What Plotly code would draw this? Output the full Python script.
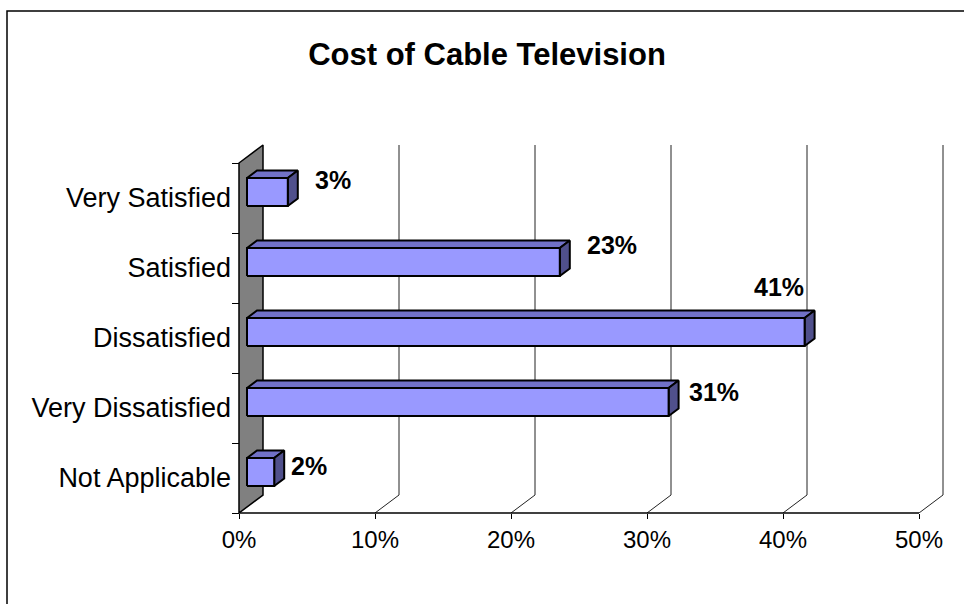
import plotly.graph_objects as go

# ---- data -------------------------------------------------------------
categories = ["Very Satisfied", "Satisfied", "Dissatisfied",
              "Very Dissatisfied", "Not Applicable"]
values = [3, 23, 41, 31, 2]          # percent of respondents
x_ticks = [0, 10, 20, 30, 40, 50]
x_tick_text = ["0%", "10%", "20%", "30%", "40%", "50%"]

# ---- geometry of the pseudo-3D frame ----------------------------------
W, H = 964, 604
PX_PER_PCT = 13.6        # horizontal scale
BAND_PX = 70             # height of one category band
DEPTH_X = 24 / PX_PER_PCT  # back wall offset, in x units
DEPTH_Y = 18 / BAND_PX     # back wall offset, in category units
BAR_FRONT, BAR_BACK = 1 / 3, 0.75   # bar depth (fraction of full depth)
BAR_HALF = 0.2                      # half bar thickness, category units

M_L, M_R, M_T, M_B = 232, 10, 130, 91
PLOT_W, PLOT_H = W - M_L - M_R, H - M_T - M_B
X_LO = -7 / PX_PER_PCT
X_HI = X_LO + PLOT_W / PX_PER_PCT
Y_LO = -0.5
Y_HI = Y_LO + PLOT_H / BAND_PX

# label offsets (pixels) from the bar end
label_shift = [(53, 18), (60, 23), (-18, 51), (53, 16), (43, 12)]

FONT = "Liberation Sans, Arial, sans-serif"
FRONT_C, TOP_C, SIDE_C = "#9999FF", "#7171C6", "#50508C"

n = len(categories)
fig = go.Figure()


def poly(xs, ys, fill, width=1.5):
    fig.add_trace(go.Scatter(
        x=list(xs) + [xs[0]], y=list(ys) + [ys[0]], mode="lines",
        fill="toself", fillcolor=fill,
        line=dict(color="black", width=width),
        hoverinfo="skip", showlegend=False))


# left (gray) wall
poly([0, DEPTH_X, DEPTH_X, 0],
     [Y_LO, Y_LO + DEPTH_Y, n - 0.5 + DEPTH_Y, n - 0.5], "#808080", 1.5)

# back-wall gridlines and floor diagonals
gx, gy = [], []
for v in x_ticks[1:]:
    gx += [v, v + DEPTH_X, v + DEPTH_X, None]
    gy += [Y_LO, Y_LO + DEPTH_Y, n - 0.5 + DEPTH_Y, None]
fig.add_trace(go.Scatter(x=gx, y=gy, mode="lines",
                         line=dict(color="#222222", width=1),
                         hoverinfo="skip", showlegend=False))

# bars: front, top and side faces
for k, (cat, v) in enumerate(zip(categories, values)):
    yc = n - 1 - k
    fx0, fx1 = BAR_FRONT * DEPTH_X, v + BAR_FRONT * DEPTH_X
    bx0, bx1 = BAR_BACK * DEPTH_X, v + BAR_BACK * DEPTH_X
    fy0, fy1 = yc - BAR_HALF + BAR_FRONT * DEPTH_Y, yc + BAR_HALF + BAR_FRONT * DEPTH_Y
    by0, by1 = yc - BAR_HALF + BAR_BACK * DEPTH_Y, yc + BAR_HALF + BAR_BACK * DEPTH_Y
    poly([fx0, fx1, bx1, bx0], [fy1, fy1, by1, by1], TOP_C, 2)
    poly([fx1, bx1, bx1, fx1], [fy0, by0, by1, fy1], SIDE_C, 2)
    poly([fx0, fx1, fx1, fx0], [fy0, fy0, fy1, fy1], FRONT_C, 2)
    dx, dy = label_shift[k]
    fig.add_annotation(x=v, y=yc, xref="x", yref="y", text=f"<b>{v}%</b>",
                       showarrow=False, xshift=dx, yshift=dy,
                       font=dict(family=FONT, size=25, color="black"))

# front floor edge
fig.add_shape(type="line", xref="x", yref="paper", x0=0, x1=x_ticks[-1],
              y0=0, y1=0, line=dict(color="black", width=1.5))

# outer chart frame (runs off the right and bottom of the page)
fig.add_shape(type="rect", xref="paper", yref="paper",
              x0=(7 - M_L) / PLOT_W, x1=(W + 20 - M_L) / PLOT_W,
              y0=-(M_B + 20) / PLOT_H, y1=(H - 11 - M_B) / PLOT_H,
              line=dict(color="black", width=1.5), layer="above")

fig.update_layout(
    width=W, height=H,
    margin=dict(l=M_L, r=M_R, t=M_T, b=M_B, autoexpand=False),
    paper_bgcolor="white", plot_bgcolor="white",
    showlegend=False,
    title=dict(text="<b>Cost of Cable Television</b>",
               font=dict(family=FONT, size=31, color="black"),
               x=487 / W, xanchor="center", xref="container",
               y=1 - 54 / H, yanchor="middle", yref="container"),
    xaxis=dict(range=[X_LO, X_HI], tickvals=x_ticks, ticktext=x_tick_text,
               ticks="outside", ticklen=5, tickcolor="black", tickwidth=1,
               showgrid=False, zeroline=False, showline=False,
               tickfont=dict(family=FONT, size=24, color="black"),
               fixedrange=True),
    yaxis=dict(range=[Y_LO, Y_HI],
               tickvals=[n - 1 - k for k in range(n)], ticktext=categories,
               ticks="", showgrid=False, zeroline=False, showline=False,
               tickfont=dict(family=FONT, size=27, color="black"),
               minor=dict(tickvals=[i - 0.5 for i in range(n + 1)],
                          ticks="inside", ticklen=7, tickcolor="black",
                          tickwidth=1, showgrid=False),
               fixedrange=True),
)

fig.write_html("out.html")
